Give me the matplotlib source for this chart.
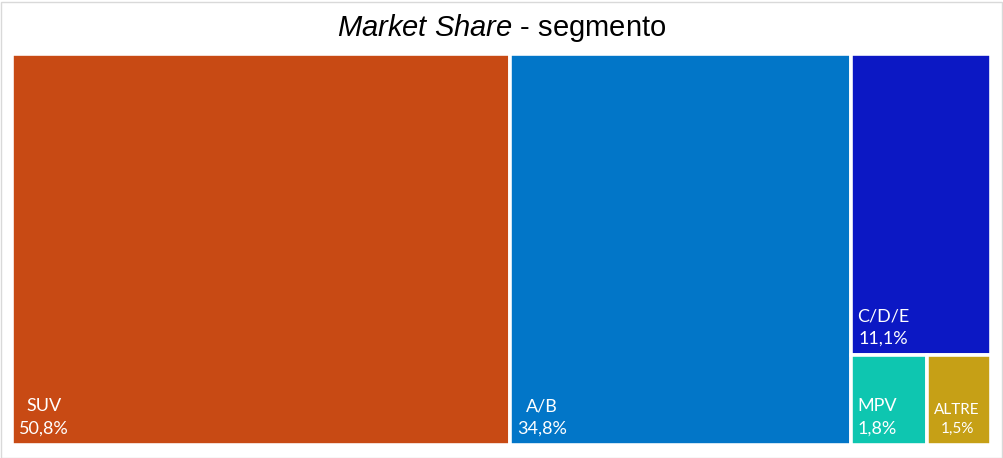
import matplotlib
matplotlib.use("Agg")
import matplotlib.pyplot as plt
from matplotlib.patches import Rectangle

# values (percent)
labels = ["SUV", "A/B", "C/D/E", "MPV", "ALTRE"]
shares = [50.8, 34.8, 11.1, 1.8, 1.5]
share_text = ["50,8%", "34,8%", "11,1%", "1,8%", "1,5%"]
colors = ["#C84A14", "#0276C8", "#0C18C4", "#0EC6B0", "#C6A016"]

# nesting of the treemap: horizontal split, then vertical, then horizontal
tree = [0, 1, [2, [3, 4]]]

plt.rcParams["mathtext.fontset"] = "custom"
plt.rcParams["mathtext.it"] = "Liberation Sans:italic"
plt.rcParams["mathtext.rm"] = "Liberation Sans"


def total(node):
    if isinstance(node, list):
        return sum(total(n) for n in node)
    return shares[node]


def layout(node, x, y, w, h, horizontal, out):
    # slice and dice
    if not isinstance(node, list):
        out.append((node, x, y, w, h))
        return
    tot = total(node)
    if horizontal:
        cx = x
        for child in node:
            cw = w * total(child) / tot
            layout(child, cx, y, cw, h, not horizontal, out)
            cx += cw
    else:
        cy = y + h
        for child in node:
            ch = h * total(child) / tot
            cy -= ch
            layout(child, x, cy, w, ch, not horizontal, out)


fig = plt.figure(figsize=(10.04, 4.58), dpi=100)
ax = fig.add_axes([12.5 / 1004, 13.5 / 458, 979 / 1004, 391 / 458])
ax.set_xlim(0, 1)
ax.set_ylim(0, 1)
ax.axis("off")

rects = []
layout(tree, 0, 0, 1, 1, True, rects)
for idx, x, y, w, h in rects:
    ax.add_patch(Rectangle((x, y), w, h, facecolor=colors[idx],
                           edgecolor="white", linewidth=2.6, clip_on=False))
    size = 11 if labels[idx] == "ALTRE" else 13
    ax.annotate(labels[idx] + "\n" + share_text[idx], xy=(x, y),
                xytext=(5, 6), textcoords="offset points",
                ha="left", va="bottom", multialignment="center",
                color="white", fontsize=size, family="Lato", linespacing=1.45)

fig.text(0.5, 1 - 28 / 458, r"$\it{Market\ Share}$ - segmento",
         ha="center", va="center", fontsize=21, family="Liberation Sans")

fig.patches.append(Rectangle((0.5 / 1004, 0.5 / 458), 1002 / 1004, 456 / 458,
                             transform=fig.transFigure, fill=False,
                             edgecolor="#D9D9D9", linewidth=1))

fig.savefig("out.png", dpi=100)
